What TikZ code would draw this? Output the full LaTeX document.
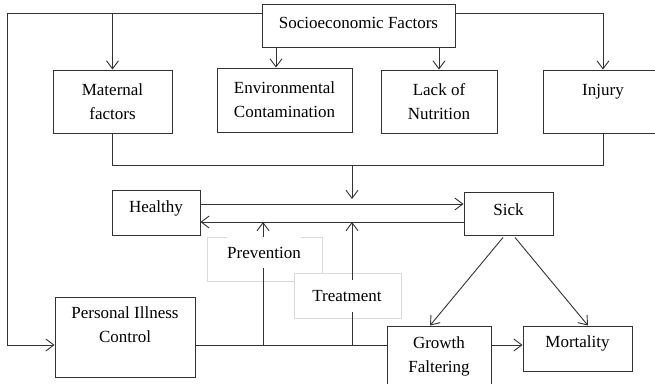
\documentclass[tikz,border=0pt]{standalone}
\usepackage{fontspec}
\setmainfont{Liberation Serif}
\newfontfamily\lserif{Liberation Serif}
\usetikzlibrary{arrows.meta,calc}
\definecolor{ln}{HTML}{333333}
\definecolor{lb}{HTML}{D9D9D9}
\newcommand\liftt[2]{\raisebox{#1}[\height][\depth]{#2}}
\begin{document}
\begin{tikzpicture}[x=1pt,y=-1pt,
  box/.style={draw=ln, line width=0.9pt, fill=white, align=center, inner sep=0pt, font=\lserif\fontsize{17}{24}\selectfont},
  lbl/.style={draw=lb, line width=0.8pt, fill=white, inner sep=0pt},
  lbltext/.style={fill=white, inner sep=0pt, font=\lserif\fontsize{17}{24}\selectfont},
  conn/.style={draw=ln, line width=0.9pt},
  arr/.style={conn, -{Straight Barb[length=8pt,width=12pt]}}]
\useasboundingbox (0,0) rectangle (655,383);
\fill[white] (0,0) rectangle (655,383);
% boxes
\node[box, minimum width=193pt, minimum height=43pt] (soc) at (358.5,25.5) {\liftt{3pt}{Socioeconomic Factors}};
\node[box, minimum width=119pt, minimum height=63pt] (mat) at (112.5,101.5) {Maternal\\factors};
\node[box, minimum width=135pt, minimum height=64pt] (env) at (284.5,100) {Environmental\\Contamination};
\node[box, minimum width=116pt, minimum height=63pt] (lack) at (439,101.5) {Lack of\\Nutrition};
\node[box, minimum width=120pt, minimum height=63pt] (inj) at (603,101.5) {Injury\\\mbox{}};
\node[box, minimum width=88pt, minimum height=45pt] (hea) at (156,212.5) {\liftt{4pt}{Healthy}};
\node[box, minimum width=89pt, minimum height=43pt] (sick) at (508.5,213.5) {\liftt{4pt}{Sick}};
\node[box, minimum width=140pt, minimum height=80pt] (pic) at (125,337) {Personal Illness\\Control\\\mbox{}};
\node[box, minimum width=104pt, minimum height=60pt] (gro) at (439,356) {Growth\\Faltering};
\node[box, minimum width=109pt, minimum height=45pt] (mor) at (577.5,348.5) {\liftt{5pt}{Mortality}};
% label frames
\node[lbl, minimum width=115pt, minimum height=44pt] (pbox) at (264.5,259) {};
\node[lbl, minimum width=107pt, minimum height=45pt] (tbox) at (347.5,295.5) {};
% helper coordinates
\coordinate (tl) at (7,13);
\coordinate (tr) at (603,13);
\coordinate (ea) at (276,0);
\coordinate (mg) at (352,165);
\coordinate (yb) at (0,345);
\coordinate (yh) at (0,204);
\coordinate (ys) at (0,222);
\coordinate (xp) at (263,0);
% connectors
\draw[arr] (soc.west |- tl) -- (tl) -- (tl |- yb) -- (pic.west |- yb);
\draw[arr] (mat.north |- tl) -- (mat.north);
\draw[arr] (soc.east |- tr) -- (tr) -- (inj.north);
\draw[arr] (soc.south -| ea) -- (env.north -| ea);
\draw[arr] (soc.south -| lack.north) -- (lack.north);
\draw[conn] (mat.south) -- (mat.south |- mg) -- (inj.south |- mg) -- (inj.south);
\draw[arr] (mg) -- ($(mg |- yh)+(0,-5)$);
\draw[arr] (hea.east |- yh) -- (sick.west |- yh);
\draw[arr] (sick.west |- ys) -- (hea.east |- ys);
\draw[conn] (pic.east |- yb) -- (gro.west |- yb);
\draw[arr] (xp |- yb) -- (xp |- ys);
\draw[arr] (mg |- yb) -- (mg |- ys);
\draw[arr] (gro.east |- yb) -- (mor.west |- yb);
\draw[arr] ($(sick.south)+(-5.5,2)$) -- ($(gro.north)+(-9,0)$);
\draw[arr] ($(sick.south)+(6.5,2)$) -- ($(mor.north)+(10.5,0)$);
% label texts
\node[lbltext, minimum height=31pt] (ptxt) at (264,252.5) {Prevention};
\node[lbltext, minimum height=32pt] (ttxt) at (347,296) {Treatment};
\end{tikzpicture}
\end{document}
